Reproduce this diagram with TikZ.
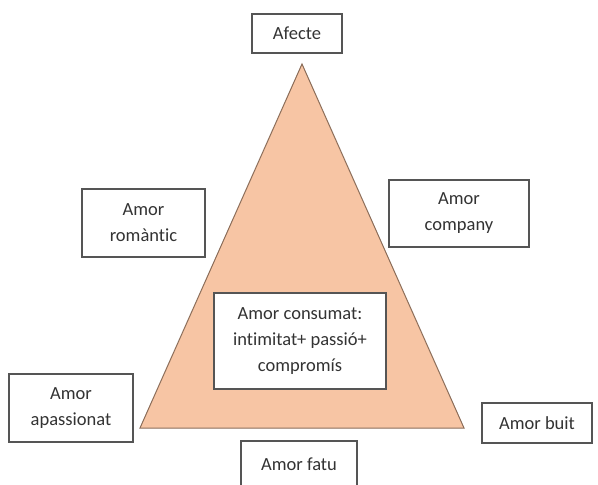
\documentclass[tikz,border=0pt]{standalone}
\usepackage{fontspec}
\setmainfont{Carlito}[Ligatures=NoCommon]
\definecolor{peach}{HTML}{F7C5A4}
\definecolor{peachedge}{HTML}{8C6E5A}
\definecolor{boxedge}{HTML}{555555}
\definecolor{txt}{HTML}{333333}
\begin{document}
\begin{tikzpicture}[x=1pt,y=-1pt,
  lbox/.style={draw=boxedge,line width=1.2pt,fill=white,align=center,text=txt,
    font=\fontsize{18.5}{26}\selectfont,inner sep=0pt}]
\useasboundingbox (0,0) rectangle (598,485);
\fill[white] (0,0) rectangle (598,485);
% triangle
\coordinate (apex) at (302,64);
\coordinate (bl) at (140,428);
\coordinate (br) at (464,428);
\draw[fill=peach,draw=peachedge,line width=1pt,line join=miter] (apex) -- (bl) -- (br) -- cycle;
% boxes
\node[lbox,minimum width=90,minimum height=39] (afecte) at (297,33.5) {Afecte};
\node[lbox,minimum width=123,minimum height=68] (romantic) at (143.5,223) {Amor\\romàntic};
\node[lbox,minimum width=140,minimum height=67] (company) at (459,213.5) {Amor\\company};
\node[lbox,minimum width=172,minimum height=96] (consumat) at (300,341) {Amor consumat:\\intimitat+ passió+\\compromís};
\node[lbox,minimum width=124,minimum height=68] (apassionat) at (71,408) {Amor\\apassionat};
\node[lbox,minimum width=116,minimum height=46] (fatu) at (299,464) {Amor fatu};
\node[lbox,minimum width=110,minimum height=40] (buit) at (537,423) {Amor buit};
\end{tikzpicture}
\end{document}
